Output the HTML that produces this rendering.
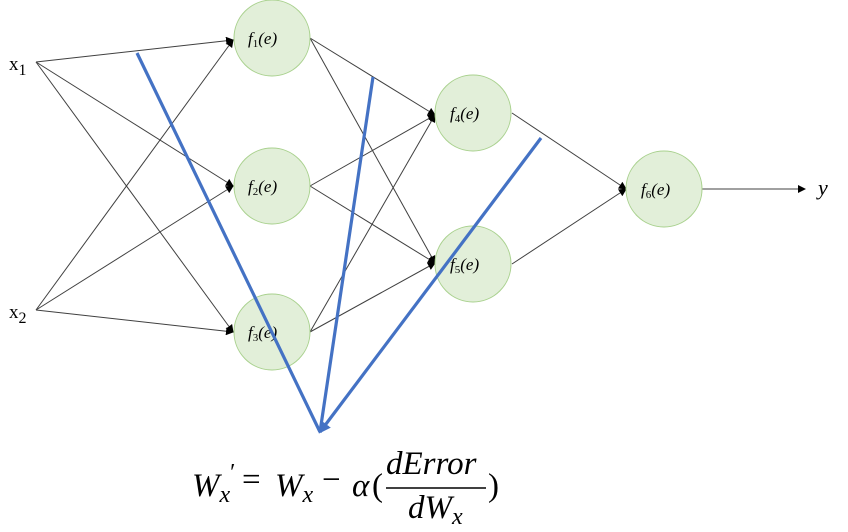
<!DOCTYPE html>
<html><head><meta charset="utf-8"><style>
html,body{margin:0;padding:0;background:#fff;}
svg{display:block;}
.n{fill:#e2efd9;stroke:#a9d18e;stroke-width:1;}
.l{stroke:#404040;stroke-width:1;fill:none;}
.t{font-family:"Liberation Serif",serif;font-style:italic;font-size:17px;fill:#000;}
.b{stroke:#4472c4;stroke-width:3.2;fill:none;}
</style></head><body>
<svg width="848" height="532" viewBox="0 0 848 532" xmlns="http://www.w3.org/2000/svg">
<defs>
<marker id="a" markerWidth="8" markerHeight="8" refX="7" refY="4" orient="auto" markerUnits="userSpaceOnUse"><path d="M0,0 L8,4 L0,8 z" fill="#000"/></marker>
<marker id="bb" markerWidth="14" markerHeight="14" refX="10" refY="7" orient="auto" markerUnits="userSpaceOnUse"><path d="M0,1 L12,7 L0,13 z" fill="#4472c4"/></marker>
</defs>
<g class="l" marker-end="url(#a)">
<line x1="36" y1="62" x2="233" y2="40"/>
<line x1="36" y1="62" x2="233" y2="186"/>
<line x1="36" y1="62" x2="233" y2="332"/>
<line x1="36" y1="310" x2="233" y2="40"/>
<line x1="36" y1="310" x2="233" y2="186"/>
<line x1="36" y1="310" x2="233" y2="332"/>
<line x1="310" y1="38" x2="435" y2="115"/>
<line x1="310" y1="38" x2="435" y2="263"/>
<line x1="310" y1="186" x2="435" y2="115"/>
<line x1="310" y1="186" x2="435" y2="263"/>
<line x1="310" y1="332" x2="435" y2="115"/>
<line x1="310" y1="332" x2="435" y2="263"/>
<line x1="512" y1="113" x2="626" y2="189"/>
<line x1="512" y1="264" x2="626" y2="189"/>
<line x1="702" y1="189" x2="805" y2="189"/>
</g>
<circle class="n" cx="272" cy="38" r="38"/>
<circle class="n" cx="272" cy="186" r="38"/>
<circle class="n" cx="272" cy="332" r="38"/>
<circle class="n" cx="473" cy="113" r="38"/>
<circle class="n" cx="473" cy="264" r="38"/>
<circle class="n" cx="664" cy="189" r="38"/>
<g class="t">
<text x="248" y="44">f<tspan font-size="11" dy="3" font-style="normal">1</tspan><tspan dy="-3">(e)</tspan></text>
<text x="248" y="192">f<tspan font-size="11" dy="3" font-style="normal">2</tspan><tspan dy="-3">(e)</tspan></text>
<text x="248" y="338">f<tspan font-size="11" dy="3" font-style="normal">3</tspan><tspan dy="-3">(e)</tspan></text>
<text x="450" y="119">f<tspan font-size="11" dy="3" font-style="normal">4</tspan><tspan dy="-3">(e)</tspan></text>
<text x="450" y="270">f<tspan font-size="11" dy="3" font-style="normal">5</tspan><tspan dy="-3">(e)</tspan></text>
<text x="641" y="195">f<tspan font-size="11" dy="3" font-style="normal">6</tspan><tspan dy="-3">(e)</tspan></text>
<text x="818" y="195" font-size="22">y</text>
</g>
<text x="9" y="70" font-family="Liberation Serif,serif" font-size="19">x<tspan font-size="16" dy="5">1</tspan></text>
<text x="9" y="318" font-family="Liberation Serif,serif" font-size="19">x<tspan font-size="16" dy="5">2</tspan></text>
<g class="b">
<line x1="137" y1="53" x2="320" y2="432"/>
<line x1="373" y1="77" x2="320" y2="432"/>
<line x1="541" y1="138" x2="320" y2="432" marker-end="url(#bb)"/>
</g>
<g font-family="Liberation Serif,serif" font-size="33" fill="#000">
<text x="192" y="496" font-style="italic">W<tspan font-size="24" dy="6">x</tspan><tspan dy="-22" font-style="normal" font-size="24">′</tspan></text>
<text x="242" y="490" font-style="normal">=</text>
<text x="275" y="496" font-style="italic">W<tspan font-size="24" dy="6">x</tspan></text>
<text x="322" y="490">−</text>
<text x="352" y="496" font-style="italic">α</text>
<text x="372" y="496">(</text>
<text x="386" y="474" font-style="italic">dError</text>
<line x1="386" y1="488" x2="486" y2="488" stroke="#000" stroke-width="1.5"/>
<text x="408" y="518" font-style="italic">dW<tspan font-size="24" dy="6">x</tspan></text>
<text x="488" y="496">)</text>
</g>
</svg>
</body></html>
